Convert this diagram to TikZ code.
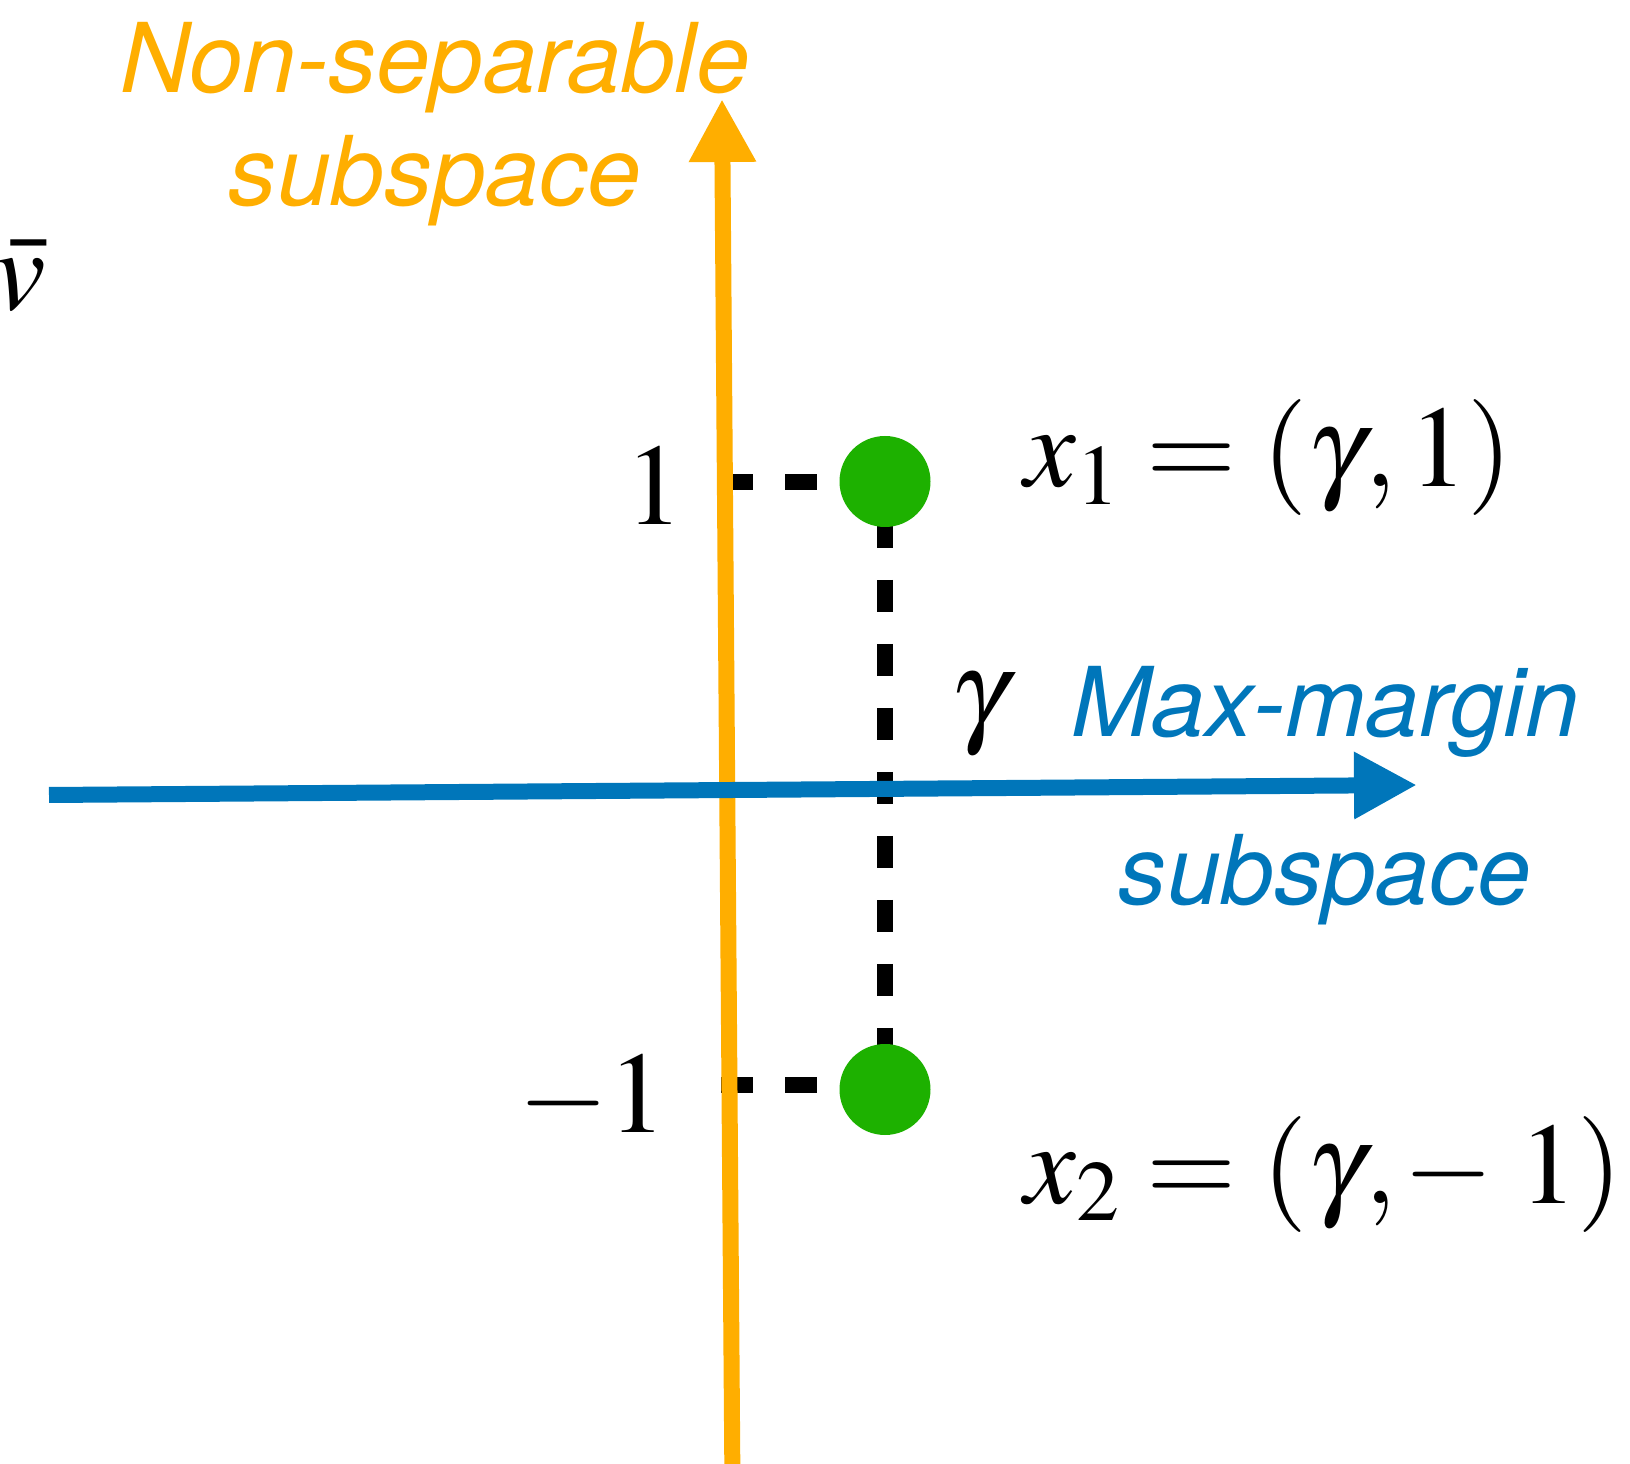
\documentclass[tikz,border=0pt]{standalone}
\usepackage{mathptmx}
\usepackage[no-math]{fontspec}
\newfontfamily\heros{TeX Gyre Heros}
\usetikzlibrary{arrows.meta,positioning,calc,backgrounds}
\definecolor{nsorange}{RGB}{255,174,0}
\definecolor{mmblue}{RGB}{0,118,186}
\definecolor{dotgreen}{RGB}{29,177,0}

\begin{document}
\begin{tikzpicture}[
  axis/.style={line width=1.6mm,-{Triangle[length=6.3mm,width=6.3mm]}},
  guide/.style={line width=1.6mm,dash pattern=on 3.2mm off 3.2mm},
  pt/.style={circle,fill=dotgreen,minimum size=9.1mm,inner sep=0pt},
  mathlbl/.style={inner sep=0pt,font=\fontsize{33}{40}\selectfont},
  sublbl/.style={inner sep=0pt,align=center}]
  \useasboundingbox (0,0) rectangle (16.30,-14.64);
  % axis ends
  \coordinate (ns-start) at (7.324,-14.75);
  \coordinate (ns-end) at (7.22,-0.99);
  \coordinate (mm-start) at (0.49,-7.95);
  \coordinate (mm-end) at (14.17,-7.85);
  % the two points
  \node[pt] (x1) at (8.85,-4.815) {};
  \node[pt] (x2) at (8.85,-10.895) {};
  \coordinate (t1) at (7.21,-4.82);
  \coordinate (t2) at (7.21,-10.85);
  \node[mathlbl,anchor=base east] (one) at (6.84,-5.25) {$1$};
  \node[mathlbl,anchor=base east] (mone) at (6.67,-11.33) {$-1$};
  \node[mathlbl,anchor=base west] (gam) at (9.50,-7.31) {$\gamma$};
  \node[mathlbl,anchor=base west] (lx1) at (10.24,-4.87) {$x_1=(\gamma,1)$};
  \node[mathlbl,anchor=base west] (lx2) at (10.24,-12.03) {$x_2=(\gamma,\mskip-1mu{-}\;1)$};
  \node[mathlbl,anchor=base west] (vb) at (-0.06,-3.10) {$\bar{v}$};
  \node[sublbl,text=nsorange,font=\heros\itshape\fontsize{27.4}{32.3}\selectfont]
    (nonsep) at (4.35,-1.24) {Non-separable\\subspace};
  \node[sublbl,text=mmblue,font=\heros\itshape\fontsize{27.4}{47.8}\selectfont]
    (maxmar) at (13.25,-7.955) {Max-margin\\subspace};
  \begin{scope}[on background layer]
    \draw[guide] (t1) -- (t1 -| x1);
    \draw[guide] (t2) -- (t2 -| x2);
    \draw[guide,dash phase=2.95mm] (x1.center) -- (x2.center);
  \end{scope}
  \draw[axis,nsorange] (ns-start) -- (ns-end);
  \draw[axis,mmblue] (mm-start) -- (mm-end);
\end{tikzpicture}
\end{document}
